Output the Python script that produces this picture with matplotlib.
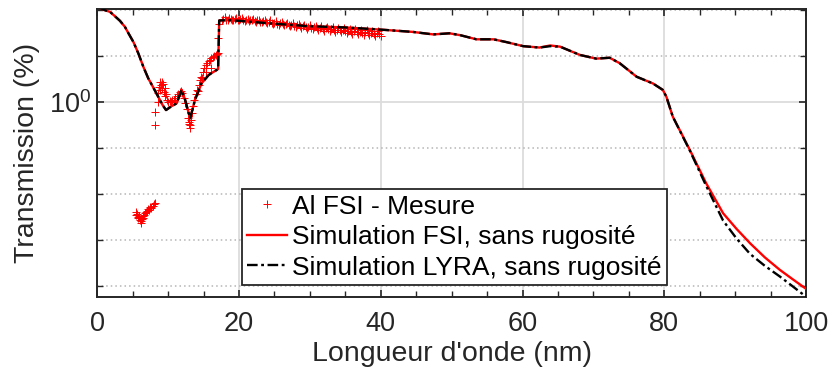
import matplotlib
matplotlib.use("Agg")
import matplotlib.pyplot as plt
from matplotlib.ticker import FixedLocator, MultipleLocator, NullFormatter

plt.rcParams['font.family'] = ['Liberation Sans', 'DejaVu Sans']
plt.rcParams['mathtext.fontset'] = 'custom'
plt.rcParams['mathtext.rm'] = 'Liberation Sans'
plt.rcParams['mathtext.it'] = 'Liberation Sans:italic'

# ---------------- data ----------------
sim_x = [0, 1.1, 1.8, 2.5, 3.2, 3.9, 4.4, 5.1, 5.8, 6.5, 7.2, 7.9, 8.6, 9.2, 9.7,
         10.5, 11.2, 11.9, 12.4, 13.1, 13.8, 14.7, 15.7, 16.1, 16.8, 17.05, 17.2,
         18.5, 20, 25, 30, 35, 40, 42.7, 44.5, 47.4, 49.7, 51.2, 53.5, 55.9, 57.7,
         60.1, 62.4, 63.9, 65.3, 68.1, 70.4, 72.3, 73.7, 76.1, 78.4, 79.8, 80.3,
         81.2, 83.6, 85.9, 88.3, 90.2, 92.1, 94.2, 96.3, 98.0, 100.0]
sim_fsi = [120, 100, 92.3, 74, 59, 43.6, 31.6, 20.4, 11.5, 5.9, 3.3, 2.1, 1.32, 0.88, 0.68,
           0.83, 0.95, 1.88, 1.12, 0.45, 1.15, 2.57, 3.9, 4.3, 5.0, 5.3, 60,
           61, 59, 51, 45, 42.4, 38, 35.5, 33.9, 29.9, 31.6, 28.8, 23.4, 23.4, 20.4,
           16.6, 15.5, 17.2, 16.2, 10.7, 8.9, 9.3, 7.1, 3.6, 2.57, 1.86, 1.32,
           0.49, 0.093, 0.0176, 0.0039, 0.00178, 0.00087, 0.000427, 0.00023, 0.000148, 0.000089]
sim_lyra = [120, 100, 92.3, 74, 59, 43.6, 31.6, 20.4, 11.5, 5.9, 3.3, 2.1, 1.32, 0.88, 0.68,
            0.83, 0.95, 1.88, 1.12, 0.45, 1.15, 2.57, 3.9, 4.3, 5.0, 5.3, 60,
            61, 59, 51, 45, 42.4, 38, 35.5, 33.9, 29.9, 31.6, 28.8, 23.4, 23.4, 20.4,
            16.6, 15.5, 16.6, 16.2, 10.7, 8.9, 9.3, 7.1, 3.6, 2.57, 1.86, 1.32,
            0.49, 0.090, 0.0155, 0.0027, 0.00110, 0.00051, 0.000280, 0.000165, 0.000104, 0.000060]

meas_x = [5.4, 5.5, 5.6, 5.7, 5.8, 5.9, 6.0, 6.1, 6.2, 6.25, 6.4, 6.5, 6.6, 6.8, 6.9,
          7.0, 7.2, 7.3, 7.5, 7.6, 7.8, 8.0, 8.1,
          8.1, 8.15, 8.5, 8.6, 8.7, 8.8, 8.9, 9.0, 9.1, 9.2, 9.3, 9.4, 9.5, 9.6, 9.7, 9.8,
          10.0, 10.2, 10.4, 10.6, 10.8, 11.0, 11.2, 11.4, 11.6, 11.8, 12.0, 12.2, 12.4,
          12.6, 12.8, 12.9, 13.0, 13.1, 13.15, 13.2, 13.3, 13.5, 13.7, 13.9, 14.1, 14.2,
          14.3, 14.5, 14.7, 14.8, 14.9, 15.1, 15.3, 15.4, 15.5, 15.7, 15.9, 16.0, 16.1,
          16.3, 16.5, 16.7, 16.9, 17.05, 17.1, 17.2,
          17.6, 18.0, 18.4, 18.8, 19.2, 19.6, 20.0, 20.4, 20.8, 21.2, 21.6, 22.0, 22.4,
          22.8, 23.2, 23.6, 24.0, 24.4, 24.8, 25.2, 25.6, 26.0, 26.4, 26.8, 27.2, 27.6,
          28.0, 28.4, 28.8, 29.2, 29.6, 30.0, 30.4, 30.8, 31.2, 31.6, 32.0, 32.4, 32.8,
          33.2, 33.6, 34.0, 34.4, 34.8, 35.2, 35.6, 36.0, 36.4, 36.8, 37.2, 37.6, 38.0,
          38.4, 38.8, 39.2, 39.6, 40.0,
          17.8, 18.2, 18.6, 19.0, 19.4, 19.8, 20.2, 20.6, 21.0, 21.4, 21.8, 22.2, 22.6,
          23.0, 23.4, 23.8, 24.2, 24.6, 25.0, 25.4, 25.8, 26.2, 26.6, 27.0, 27.4, 27.8,
          28.2, 28.6, 29.0, 29.4, 29.8, 30.2, 30.6, 31.0, 31.4, 31.8, 32.2, 32.6, 33.0,
          33.4, 33.8, 34.2, 34.6, 35.0, 35.4, 35.8, 36.2, 36.6, 37.0, 37.4, 37.8, 38.2,
          38.6, 39.0, 39.4, 39.8]
meas_y = [0.0041, 0.0036, 0.0038, 0.0033, 0.0031, 0.0034, 0.0028, 0.0026, 0.0024, 0.0029,
          0.0031, 0.0034, 0.0036, 0.0039, 0.0042, 0.0044, 0.0048, 0.0046, 0.0053, 0.0051,
          0.0057, 0.0061, 0.0064,
          0.32, 0.63, 1.0, 1.6, 2.2, 1.9, 2.7, 2.4, 2.8, 2.1, 2.5, 1.7, 2.0, 1.4, 1.5, 1.15,
          1.0, 1.05, 1.0, 1.1, 1.15, 1.25, 1.35, 1.5, 1.65, 1.8, 1.6, 1.25, 0.95,
          0.7, 0.45, 0.38, 0.34, 0.28, 0.32, 0.42, 0.6, 0.85, 1.15, 1.5, 1.9, 1.8,
          2.4, 3.0, 3.6, 3.3, 4.5, 5.6, 6.6, 4.5, 7.2, 7.8, 8.4, 5.5, 9.0,
          9.6, 10.2, 10.8, 11.2, 11.8, 25, 50,
          62, 70, 60, 66, 61, 69, 62, 67, 58, 65, 60, 66, 56,
          63, 55, 61, 52, 60, 51, 58, 48, 57, 47, 54, 45, 53,
          44, 51, 42, 49, 40, 48, 39, 46, 37, 45, 36, 44, 35,
          43, 34, 42, 33, 41, 32, 40, 31, 39, 30, 38, 29.5, 37,
          29, 36, 28, 35, 28,
          66, 63, 67, 63, 65, 61, 64, 61, 62, 59, 62, 58, 60,
          57, 58, 55, 56, 53, 54, 51, 52, 50, 50, 48, 49, 46,
          47, 45, 46, 43, 44, 42, 43, 41, 41.5, 39.5, 40.5, 38.5, 39.5,
          37.5, 38, 36.5, 37, 35.5, 36, 34.5, 35, 33.5, 34, 32.5, 33, 31.5,
          32, 31, 31.5, 30.5]

x_ticks = [0, 20, 40, 60, 80, 100]
y_major = [1.0]
y_minor = [1e-4, 1e-3, 1e-2, 1e-1, 1e1, 1e2]

# ---------------- figure ----------------
fig = plt.figure(figsize=(8.33, 3.81), dpi=100)
ax = fig.add_axes([0.1168, 0.2213, 0.8508, 0.7543])

dark = '#262626'
ax.plot(meas_x, meas_y, ls='none', marker='+', color='red', ms=5.5, mew=0.7,
        label='Al FSI - Mesure', zorder=3)
ax.plot(sim_x, sim_fsi, color='red', lw=1.7, label='Simulation FSI, sans rugosité', zorder=4)
ax.plot(sim_x, sim_lyra, color='black', lw=1.7, ls=(0, (4.5, 1.5, 1.2, 1.5)),
        label='Simulation LYRA, sans rugosité', zorder=5)

ax.set_yscale('log')
ax.set_xlim(0, 100)
ax.set_ylim(6.0e-5, 105)

ax.xaxis.set_major_locator(FixedLocator(x_ticks))
ax.xaxis.set_minor_locator(MultipleLocator(5))
ax.yaxis.set_major_locator(FixedLocator(y_major))
ax.yaxis.set_minor_locator(FixedLocator(y_minor))
ax.yaxis.set_minor_formatter(NullFormatter())
ax.set_yticklabels([r'$\mathregular{10^0}$'])

ax.set_axisbelow(True)
ax.grid(True, which='major', color='#dcdcdc', lw=1.3, ls='-')
ax.yaxis.grid(True, which='minor', color='#b5b5b5', lw=1.1, ls=(0, (1, 2)))

ax.tick_params(which='both', direction='in', top=True, right=True, colors=dark,
               labelsize=19.5)
ax.tick_params(which='major', length=5, width=1.2)
ax.tick_params(which='minor', length=4, width=1.0)
ax.tick_params(axis='x', pad=10)
ax.tick_params(axis='y', pad=4)
for s in ax.spines.values():
    s.set_color(dark)
    s.set_linewidth(1.4)

ax.set_xlabel("Longueur d'onde (nm)", fontsize=20.5, color=dark, labelpad=3)
ax.set_ylabel('Transmission (%)', fontsize=20.5, color=dark, labelpad=7)

leg = ax.legend(loc='lower left', bbox_to_anchor=(0.2038, 0.0407), borderaxespad=0,
                fontsize=19, frameon=True, fancybox=False, framealpha=1,
                edgecolor=dark, handlelength=1.5, handletextpad=0.2, borderpad=0.2,
                labelspacing=0.25)
leg.get_frame().set_linewidth(1.3)
for t in leg.get_texts():
    t.set_color('black')

fig.savefig('out.png', dpi=100)
